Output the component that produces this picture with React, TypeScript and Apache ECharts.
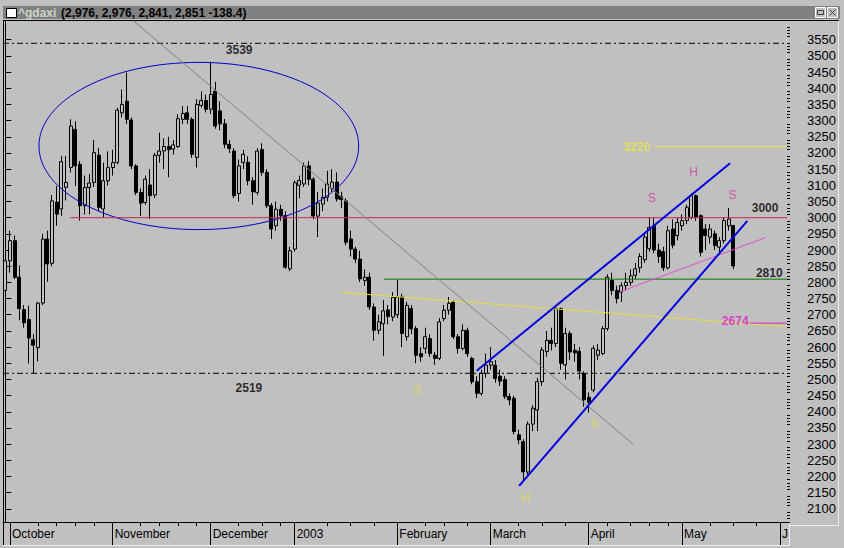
import React, { useEffect, useRef } from "react";
import * as echarts from "echarts";

// ---------- categories (trading days) ----------
const monthKeys = ["Sep", "Oct", "Nov", "Dec", "Jan", "Feb", "Mar", "Apr", "May", "Jun"];
const monthBarCounts = [1, 22, 21, 18, 22, 20, 21, 20, 21, 2];
const monthAxisLabels = ["", "October", "November", "December", "2003", "February", "March", "April", "May", "J"];
const weekTickIndices = [7, 11, 15, 19, 29, 33, 37, 41, 50, 55, 59, 69, 74, 79, 90, 94, 99, 110, 115, 120, 129, 134, 138, 142, 151, 156, 161];

// ---------- OHLC values (index 0 = 30 Sep 2002) ----------
const opens = [
  2775, 2867, 2929, 2816, 2716, 2685, 2623, 2598, 2736, 2934, 2859, 3048, 3027, 3094, 3155, 3273, 3165, 3037, 3093, 3109,
  3193, 3027, 3114, 3155, 3171, 3324, 3360, 3302, 3160, 3078, 3047, 3101, 3070, 3193, 3206, 3220, 3212, 3220, 3304, 3324,
  3304, 3186, 3347, 3362, 3335, 3391, 3330, 3290, 3227, 3206, 3075, 3171, 3171, 3114, 3078, 3211, 3140, 3037, 2975, 3026,
  3006, 2842, 2903, 3100, 3104, 3160, 3119, 3005, 3042, 3063, 3090, 3110, 3066, 3052, 2934, 2903, 2872, 2806, 2816, 2724,
  2652, 2672, 2715, 2693, 2700, 2755, 2632, 2719, 2657, 2580, 2596, 2626, 2575, 2565, 2688, 2714, 2739, 2632, 2596, 2652,
  2565, 2493, 2457, 2519, 2544, 2544, 2510, 2500, 2447, 2442, 2329, 2308, 2214, 2362, 2406, 2493, 2586, 2621, 2611, 2719,
  2545, 2642, 2590, 2587, 2519, 2445, 2467, 2575, 2580, 2657, 2806, 2775, 2770, 2790, 2800, 2822, 2845, 2870, 2904, 2975,
  2900, 2895, 2845, 2965, 2945, 2975, 2991, 3001, 3068, 3006, 2965, 2940, 2950, 2909, 2929, 2975, 2976,
];
const closes = [
  2867, 2929, 2816, 2719, 2675, 2628, 2606, 2736, 2934, 2857, 3052, 3011, 3173, 3109, 3283, 3160, 3037, 3093, 3107, 3201,
  3032, 3114, 3155, 3170, 3332, 3350, 3304, 3160, 3078, 3045, 3119, 3068, 3193, 3206, 3220, 3210, 3225, 3306, 3322, 3304,
  3196, 3350, 3362, 3335, 3381, 3283, 3290, 3227, 3214, 3068, 3160, 3196, 3114, 3080, 3206, 3140, 3037, 2965, 3026, 3006,
  2847, 2898, 3108, 3115, 3160, 3119, 3005, 3045, 3063, 3104, 3110, 3058, 3056, 2924, 2903, 2872, 2811, 2816, 2724, 2652,
  2678, 2712, 2695, 2754, 2755, 2642, 2729, 2657, 2575, 2570, 2632, 2580, 2565, 2678, 2714, 2735, 2632, 2596, 2652, 2580,
  2493, 2457, 2519, 2544, 2555, 2503, 2495, 2447, 2437, 2339, 2313, 2214, 2362, 2411, 2493, 2591, 2621, 2611, 2719, 2550,
  2642, 2585, 2582, 2526, 2437, 2430, 2596, 2591, 2657, 2816, 2775, 2750, 2790, 2800, 2820, 2842, 2880, 2940, 2970, 2900,
  2880, 2845, 2960, 2915, 2985, 2991, 3032, 3068, 3001, 2893, 2945, 2965, 2914, 2929, 2991, 2996, 2851,
];
const highs = [
  2903, 2960, 2945, 2852, 2730, 2728, 2640, 2740, 2950, 2960, 3070, 3098, 3191, 3190, 3304, 3298, 3175, 3130, 3135, 3240,
  3215, 3170, 3205, 3210, 3340, 3396, 3448, 3310, 3165, 3090, 3130, 3150, 3200, 3263, 3245, 3250, 3240, 3320, 3345, 3345,
  3310, 3366, 3390, 3380, 3482, 3420, 3360, 3305, 3240, 3215, 3180, 3210, 3190, 3125, 3215, 3230, 3150, 3045, 3050, 3040,
  3020, 2910, 3115, 3130, 3170, 3175, 3125, 3080, 3090, 3145, 3150, 3140, 3080, 3060, 2960, 2910, 2898, 2840, 2830, 2735,
  2700, 2745, 2730, 2770, 2808, 2765, 2740, 2730, 2665, 2600, 2660, 2640, 2585, 2690, 2730, 2755, 2745, 2640, 2670, 2660,
  2570, 2510, 2530, 2580, 2600, 2560, 2530, 2510, 2457, 2450, 2345, 2315, 2370, 2420, 2505, 2600, 2650, 2660, 2725, 2722,
  2660, 2650, 2610, 2600, 2525, 2460, 2605, 2610, 2665, 2825, 2830, 2790, 2800, 2830, 2840, 2860, 2890, 2950, 3001, 3000,
  2920, 2910, 2975, 2995, 3000, 3010, 3040, 3075, 3072, 3010, 2980, 2980, 2960, 2940, 3000, 3030, 2976,
];
const lows = [
  2729, 2830, 2810, 2683, 2660, 2549, 2519, 2556, 2730, 2802, 2850, 2975, 3006, 3053, 3140, 3098, 2991, 3010, 3010, 3095,
  3020, 3000, 3100, 3130, 3165, 3310, 3290, 3150, 3070, 3005, 3040, 2996, 3060, 3170, 3150, 3125, 3195, 3215, 3290, 3290,
  3185, 3155, 3340, 3325, 3320, 3275, 3270, 3215, 3200, 3060, 3050, 3150, 3100, 3040, 3070, 3130, 3030, 2934, 2960, 2990,
  2842, 2835, 2895, 3060, 3095, 3100, 2995, 2940, 3020, 3050, 3080, 3050, 3030, 2915, 2880, 2860, 2801, 2790, 2715, 2620,
  2640, 2573, 2670, 2680, 2690, 2600, 2620, 2640, 2550, 2555, 2580, 2570, 2545, 2560, 2680, 2700, 2625, 2580, 2590, 2570,
  2485, 2442, 2450, 2505, 2530, 2490, 2480, 2440, 2420, 2330, 2300, 2189, 2205, 2340, 2340, 2480, 2570, 2590, 2600, 2530,
  2500, 2560, 2555, 2500, 2416, 2398, 2460, 2560, 2575, 2650, 2760, 2735, 2740, 2775, 2790, 2810, 2830, 2860, 2895, 2890,
  2860, 2835, 2840, 2905, 2930, 2960, 2980, 2995, 2990, 2880, 2900, 2920, 2900, 2890, 2920, 2960, 2841,
];

// y-axis tick values
const yMajorTicks = [
  2100, 2150, 2200, 2250, 2300, 2350, 2400, 2450, 2500, 2550, 2600, 2650, 2700, 2750, 2800, 2850, 2900, 2950, 3000, 3050,
  3100, 3150, 3200, 3250, 3300, 3350, 3400, 3450, 3500, 3550,
];
const Y_MIN = 2059.4;
const Y_MAX = 3607.9;

// ---------- annotations (data coordinates: [bar index, price]) ----------
const annotationLines = [
  { pts: [[-0.5, 3539], [167.5, 3539]], color: "#000000", width: 1, dash: [6, 3, 2, 3] },
  { pts: [[-0.5, 2519], [167.5, 2519]], color: "#000000", width: 1, dash: [6, 3, 2, 3] },
  { pts: [[72.0, 2769], [167.5, 2663]], color: "#e0e040", width: 1, dash: null },
  { pts: [[13.9, 3000], [167.5, 3000]], color: "#c82850", width: 1, dash: null },
  { pts: [[81.1, 2810], [167.5, 2810]], color: "#007800", width: 1, dash: null },
  { pts: [[139.2, 3220], [167.5, 3220]], color: "#e8e840", width: 1, dash: null },
  { pts: [[159.5, 2674], [167.5, 2674]], color: "#e020c8", width: 1, dash: null },
  { pts: [[27.5, 3608], [134.5, 2300]], color: "#808080", width: 1, dash: null },
  { pts: [[131.7, 2771], [163.0, 2939]], color: "#e050d0", width: 1, dash: null },
  { pts: [[101.0, 2527], [155.3, 3168]], color: "#0000e0", width: 2, dash: null },
  { pts: [[110.1, 2171], [159.0, 2990]], color: "#0000e0", width: 2, dash: null },
];
const ellipseSpec = [41.46, 3221.6, 34.26, 258.4]; // center x, center price, radius in bars, radius in price

const blackLevelLabels = [
  { text: "3539", x: 50.1, v: 3518 },
  { text: "2519", x: 52.2, v: 2474 },
  { text: "3000", x: 162.8, v: 3030 },
  { text: "2810", x: 163.7, v: 2829 },
];
const yellowLevelLabels = [{ text: "3220", x: 135.3, v: 3219 }];
const magentaLevelLabels = [{ text: "2674", x: 156.4, v: 2680 }];
const yellowPatternLabels = [
  { text: "S", x: 88.4, v: 2467 },
  { text: "H", x: 111.5, v: 2134 },
  { text: "S", x: 126.3, v: 2363 },
];
const magentaPatternLabels = [
  { text: "S", x: 138.5, v: 3061 },
  { text: "H", x: 147.5, v: 3142 },
  { text: "S", x: 155.8, v: 3069 },
];

const FONT = "'Liberation Sans', Arial, sans-serif";

function buildCategories() {
  const cats: string[] = [];
  const monthStart: Record<number, string> = {};
  monthKeys.forEach((m, mi) => {
    monthStart[cats.length] = monthAxisLabels[mi];
    for (let d = 0; d < monthBarCounts[mi]; d++) cats.push(`${m}-${d + 1}`);
  });
  return { cats, monthStart };
}

function textSeries(items: { text: string; x: number; v: number }[], color: string, bold: boolean) {
  return {
    type: "scatter",
    xAxisIndex: 2,
    yAxisIndex: 0,
    silent: true,
    z: 10,
    symbolSize: 1,
    itemStyle: { color: "rgba(0,0,0,0)" },
    data: items.map((it) => ({ name: it.text, value: [it.x, it.v] })),
    label: {
      show: true,
      position: "inside",
      formatter: "{b}",
      color,
      fontSize: 12,
      fontWeight: bold ? "bold" : "normal",
      fontFamily: FONT,
    },
  };
}

export default function App() {
  const ref = useRef<HTMLDivElement>(null);

  useEffect(() => {
    const el = ref.current;
    if (!el) return;
    const chart = echarts.init(el, null, { renderer: "svg" });
    const { cats, monthStart } = buildCategories();
    const N = cats.length;
    const weekSet = new Set(weekTickIndices);
    const isMonthStart = (i: number) => monthStart[i] !== undefined && monthStart[i] !== "";

    const candleData = cats.map((_, i) =>
      i < opens.length ? [opens[i], closes[i], lows[i], highs[i]] : "-"
    );
    const yMinorTicks: number[] = [];
    for (let v = 2060; v <= 3600; v += 10) if (v % 50 !== 0) yMinorTicks.push(v);

    const option: any = {
      animation: false,
      backgroundColor: "#c0c0c0",
      grid: { left: 3, right: 57, top: 21, bottom: 26, show: false, outerBoundsMode: "none", containLabel: false },
      xAxis: [
        {
          type: "category",
          data: cats,
          gridIndex: 0,
          position: "bottom",
          boundaryGap: true,
          axisLine: { show: true, lineStyle: { color: "#000", width: 1 } },
          axisTick: {
            show: true,
            alignWithLabel: true,
            interval: (i: number) => isMonthStart(i),
            length: 23,
            lineStyle: { color: "#000", width: 1 },
          },
          axisLabel: {
            show: true,
            interval: (i: number) => isMonthStart(i),
            formatter: (_v: string, i: number) => monthStart[i] || "",
            align: "left",
            margin: 6,
            padding: [0, 0, 0, 2],
            color: "#000",
            fontSize: 12,
            fontFamily: FONT,
          },
          splitLine: { show: false },
        },
        {
          type: "category",
          data: cats,
          gridIndex: 0,
          position: "bottom",
          boundaryGap: true,
          axisLine: { show: false },
          axisTick: {
            show: true,
            alignWithLabel: true,
            interval: (i: number) => weekSet.has(i),
            length: 4,
            lineStyle: { color: "#000", width: 1 },
          },
          axisLabel: { show: false },
          splitLine: { show: false },
        },
        { type: "value", gridIndex: 0, min: -0.5, max: N - 0.5, show: false },
      ],
      yAxis: [
        {
          type: "value",
          gridIndex: 0,
          position: "right",
          min: Y_MIN,
          max: Y_MAX,
          axisLine: { show: true, lineStyle: { color: "#000", width: 1 } },
          axisTick: { show: true, inside: false, length: 6, customValues: yMajorTicks, lineStyle: { color: "#000" } },
          axisLabel: {
            show: true,
            customValues: yMajorTicks,
            formatter: (v: number) => String(Math.round(v)),
            margin: 20,
            color: "#000",
            fontSize: 13,
            fontFamily: FONT,
          },
          splitLine: { show: false },
        },
        {
          type: "value",
          gridIndex: 0,
          position: "right",
          min: Y_MIN,
          max: Y_MAX,
          axisLine: { show: false },
          axisTick: { show: true, inside: false, length: 3, customValues: yMinorTicks, lineStyle: { color: "#000" } },
          axisLabel: { show: false },
          splitLine: { show: false },
        },
      ],
      series: [
        {
          type: "candlestick",
          xAxisIndex: 0,
          yAxisIndex: 0,
          data: candleData,
          barWidth: 3.5,
          z: 3,
          itemStyle: {
            color: "#c0c0c0",
            color0: "#000000",
            borderColor: "#000000",
            borderColor0: "#000000",
            borderColorDoji: "#000000",
            borderWidth: 1,
          },
        },
        ...annotationLines.map((l) => ({
          type: "line",
          xAxisIndex: 2,
          yAxisIndex: 0,
          data: l.pts,
          symbol: "none",
          silent: true,
          z: 6,
          lineStyle: { color: l.color, width: l.width, type: l.dash || "solid" },
        })),
        {
          type: "custom",
          xAxisIndex: 2,
          yAxisIndex: 0,
          silent: true,
          z: 6,
          data: [ellipseSpec],
          renderItem: (_p: any, api: any) => {
            const c = api.coord([api.value(0), api.value(1)]);
            const s = api.size([api.value(2), api.value(3)]);
            return {
              type: "ellipse",
              shape: { cx: c[0], cy: c[1], rx: s[0], ry: s[1] },
              style: { fill: "none", stroke: "#0000c8", lineWidth: 1 },
            };
          },
        },
        textSeries(blackLevelLabels, "#000000", true),
        textSeries(yellowLevelLabels, "#e8e840", true),
        textSeries(magentaLevelLabels, "#e020c8", true),
        textSeries(yellowPatternLabels, "#e0e040", false),
        textSeries(magentaPatternLabels, "#d03ca0", false),
      ],
      graphic: [
        { type: "rect", shape: { x: 3, y: 6, width: 837, height: 13 }, style: { fill: "#808080" }, z: 1 },
        { type: "rect", shape: { x: 6.5, y: 8.5, width: 10, height: 9 }, style: { fill: "#ffffff", stroke: "#000000", lineWidth: 1 }, z: 2 },
        { type: "text", x: 18, y: 13, style: { text: "^gdaxi", fill: "#c8d8c8", fontSize: 12, fontWeight: "bold", fontFamily: FONT, verticalAlign: "middle" }, z: 2 },
        { type: "text", x: 61, y: 13, style: { text: "(2,976, 2,976, 2,841, 2,851 -138.4)", fill: "#000000", fontSize: 12, fontWeight: "bold", fontFamily: FONT, verticalAlign: "middle" }, z: 2 },
        { type: "rect", shape: { x: 815.5, y: 7.5, width: 10, height: 10 }, style: { fill: "#c0c0c0", stroke: "#ffffff", lineWidth: 1 }, z: 2 },
        { type: "rect", shape: { x: 817.5, y: 10.5, width: 6, height: 4 }, style: { fill: "none", stroke: "#404040", lineWidth: 1 }, z: 3 },
        { type: "rect", shape: { x: 827.5, y: 7.5, width: 10, height: 10 }, style: { fill: "#c0c0c0", stroke: "#ffffff", lineWidth: 1 }, z: 2 },
        { type: "line", shape: { x1: 829.5, y1: 9.5, x2: 835.5, y2: 15.5 }, style: { stroke: "#404040", lineWidth: 1 }, z: 3 },
        { type: "line", shape: { x1: 835.5, y1: 9.5, x2: 829.5, y2: 15.5 }, style: { stroke: "#404040", lineWidth: 1 }, z: 3 },
        { type: "line", shape: { x1: 3, y1: 20.5, x2: 839, y2: 20.5 }, style: { stroke: "#000000", lineWidth: 1 }, z: 2 },
        { type: "line", shape: { x1: 3.5, y1: 20, x2: 3.5, y2: 545 }, style: { stroke: "#000000", lineWidth: 1 }, z: 2 },
        { type: "line", shape: { x1: 3, y1: 545.5, x2: 790, y2: 545.5 }, style: { stroke: "#e8f0e8", lineWidth: 1 }, z: 2 },
        { type: "line", shape: { x1: 789.5, y1: 523, x2: 789.5, y2: 546 }, style: { stroke: "#e8f0e8", lineWidth: 1 }, z: 2 },
        { type: "line", shape: { x1: 790, y1: 525.5, x2: 839, y2: 525.5 }, style: { stroke: "#e8f0e8", lineWidth: 1 }, z: 2 },
        { type: "line", shape: { x1: 838.5, y1: 21, x2: 838.5, y2: 526 }, style: { stroke: "#e8f0e8", lineWidth: 1 }, z: 2 },
      ],
    };
    chart.setOption(option);
    return () => chart.dispose();
  }, []);

  return (
    <div
      ref={ref}
      style={{ position: "fixed", left: 0, top: 0, width: 844, height: 548, background: "#c0c0c0" }}
    />
  );
}
